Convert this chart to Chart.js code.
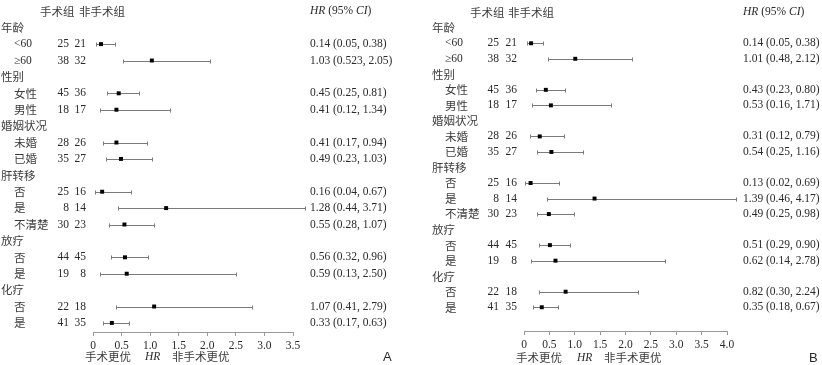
<!DOCTYPE html>
<html lang="zh">
<head>
<meta charset="UTF-8">
<title>森林图</title>
<script src="https://cdn.jsdelivr.net/npm/chart.js"></script>
<style>
  body { margin: 0; background: #fff; }
  .wrap { position: relative; width: 822px; height: 365px; }
  canvas { position: absolute; top: 0; }
  #chartA { left: 0; }
  #chartB { left: 411px; }
</style>
</head>
<body>
<div class="wrap">
  <canvas id="chartA" width="411" height="365"></canvas>
  <canvas id="chartB" width="411" height="365"></canvas>
</div>
<script>
// 行标签（第 0 行为表头）
const rowLabels = ['年龄', '<60', '≥60', '性别', '女性', '男性', '婚姻状况', '未婚', '已婚',
  '肝转移', '否', '是', '不清楚', '放疗', '否', '是', '化疗', '否', '是'];
const isGroup = [1, 0, 0, 1, 0, 0, 1, 0, 0, 1, 0, 0, 0, 1, 0, 0, 1, 0, 0];

// 例数
const surgeryN = [25, 38, 45, 18, 28, 35, 25, 8, 30, 44, 19, 22, 41];
const otherN = [21, 32, 36, 17, 26, 27, 16, 14, 23, 45, 8, 18, 35];

// A 图
const hrA = [0.14, 1.03, 0.45, 0.41, 0.41, 0.49, 0.16, 1.28, 0.55, 0.56, 0.59, 1.07, 0.33];
const loA = [0.05, 0.523, 0.25, 0.12, 0.17, 0.23, 0.04, 0.44, 0.28, 0.32, 0.13, 0.41, 0.17];
const hiA = [0.38, 2.05, 0.81, 1.34, 0.94, 1.03, 0.67, 3.71, 1.07, 0.96, 2.50, 2.79, 0.63];

// B 图
const hrB = [0.14, 1.01, 0.43, 0.53, 0.31, 0.54, 0.13, 1.39, 0.49, 0.51, 0.62, 0.82, 0.35];
const loB = [0.05, 0.48, 0.23, 0.16, 0.12, 0.25, 0.02, 0.46, 0.25, 0.29, 0.14, 0.30, 0.18];
const hiB = [0.38, 2.12, 0.80, 1.71, 0.79, 1.16, 0.69, 4.17, 0.98, 0.90, 2.78, 2.24, 0.67];

const ticksA = [0, 0.5, 1.0, 1.5, 2.0, 2.5, 3.0, 3.5];
const ticksB = [0, 0.5, 1.0, 1.5, 2.0, 2.5, 3.0, 3.5, 4.0];

// 数据行对应的行号（表头占第 0 行）
const dataRows = [];
rowLabels.forEach((s, i) => { if (!isGroup[i]) dataRows.push(i + 1); });

const latin = '11.5px "Liberation Serif", "DejaVu Serif", serif';
const latinIt = 'italic 11.5px "Liberation Serif", "DejaVu Serif", serif';
const cjk = '11.5px "Noto Sans CJK SC", sans-serif';
const textColor = '#2a2a2a';
const cjkColor = '#3c3c3c';

function fmt(v) {
  return Math.abs(v * 100 - Math.round(v * 100)) < 1e-9 ? v.toFixed(2) : v.toFixed(3);
}
function isCjk(s) {
  return /[\u4e00-\u9fff]/.test(s);
}

function forestPlugin(hr, lo, hi, p) {
  return {
    id: 'forest',
    beforeDatasetsDraw(chart) {
      const ctx = chart.ctx, xs = chart.scales.x, ys = chart.scales.y;
      ctx.save();
      ctx.strokeStyle = '#7a7a7a';
      ctx.lineWidth = 1;
      lo.forEach((l, i) => {
        const y = Math.round(ys.getPixelForValue(dataRows[i])) + 0.5;
        const x1 = Math.round(xs.getPixelForValue(l)) + 0.5;
        const x2 = Math.round(xs.getPixelForValue(hi[i])) + 0.5;
        ctx.beginPath();
        ctx.moveTo(x1, y); ctx.lineTo(x2, y);
        ctx.moveTo(x1, y - 2); ctx.lineTo(x1, y + 2);
        ctx.moveTo(x2, y - 2); ctx.lineTo(x2, y + 2);
        ctx.stroke();
      });
      ctx.restore();
    },
    afterDraw(chart) {
      const ctx = chart.ctx, ys = chart.scales.y;
      ctx.save();
      ctx.textBaseline = 'middle';

      // 表头
      const y0 = ys.getPixelForValue(0);
      ctx.font = cjk;
      ctx.fillStyle = cjkColor;
      ctx.textAlign = 'left';
      ctx.fillText('手术组', p.h1, y0);
      ctx.fillText('非手术组', p.h2, y0);
      ctx.fillStyle = textColor;
      let x = p.hrText;
      [['HR', latinIt], [' (95% ', latin], ['CI', latinIt], [')', latin]].forEach(([s, f]) => {
        ctx.font = f;
        ctx.fillText(s, x, y0);
        x += ctx.measureText(s).width;
      });

      // 行标签
      rowLabels.forEach((s, i) => {
        const y = ys.getPixelForValue(i + 1);
        const c = isCjk(s);
        ctx.font = c ? cjk : latin;
        ctx.fillStyle = c ? cjkColor : textColor;
        ctx.textAlign = 'left';
        ctx.fillText(s, isGroup[i] ? p.group : p.item, y);
      });

      // 例数与 HR 文本
      ctx.fillStyle = textColor;
      dataRows.forEach((r, i) => {
        const y = ys.getPixelForValue(r);
        ctx.font = latin;
        ctx.textAlign = 'right';
        ctx.fillText(String(surgeryN[i]), p.n1, y);
        ctx.fillText(String(otherN[i]), p.n2, y);
        ctx.textAlign = 'left';
        ctx.fillText(fmt(hr[i]) + ' (' + fmt(lo[i]) + ', ' + fmt(hi[i]) + ')', p.hrText, y);
      });

      // 底部说明
      ctx.textAlign = 'left';
      ctx.font = cjk;
      ctx.fillStyle = cjkColor;
      ctx.fillText('手术更优', p.neg, p.bottomY);
      ctx.fillText('非手术更优', p.pos, p.bottomY);
      ctx.fillStyle = textColor;
      ctx.font = latinIt;
      ctx.fillText('HR', p.hrLab, p.bottomY);
      ctx.font = '13px "Liberation Sans", Arial, sans-serif';
      ctx.fillText(p.letter, p.letterX, p.bottomY);
      ctx.restore();
    }
  };
}

function makeChart(id, hr, lo, hi, ticks, p) {
  return new Chart(document.getElementById(id), {
    type: 'scatter',
    data: {
      datasets: [{
        data: hr.map((v, i) => ({ x: v, y: dataRows[i] })),
        pointStyle: 'rect',
        pointRadius: 2.8,
        pointBorderWidth: 0,
        backgroundColor: '#000',
        borderColor: '#000',
        clip: false
      }]
    },
    options: {
      responsive: false,
      animation: false,
      events: [],
      layout: { padding: { left: p.left, right: p.right, top: 0, bottom: 0 } },
      plugins: { legend: { display: false }, tooltip: { enabled: false } },
      scales: {
        x: {
          type: 'linear',
          min: ticks[0],
          max: ticks[ticks.length - 1],
          afterBuildTicks: (axis) => { axis.ticks = ticks.map(v => ({ value: v })); },
          afterFit: (axis) => { axis.height = p.axisH; },
          grid: { drawOnChartArea: false, drawTicks: true, tickLength: 4, color: '#999' },
          border: { display: true, color: '#999' },
          ticks: {
            padding: 3,
            color: textColor,
            font: { family: '"Liberation Serif", "DejaVu Serif", serif', size: 11.5 },
            callback: (v) => v === 0 ? '0' : Number(v).toFixed(1)
          }
        },
        y: {
          type: 'linear',
          display: false,
          reverse: true,
          min: p.yMin,
          max: p.yMax
        }
      }
    },
    plugins: [forestPlugin(hr, lo, hi, p)]
  });
}

makeChart('chartA', hrA, loA, hiA, ticksA, {
  left: 93, right: 118, axisH: 33, yMin: -0.446, yMax: 19.554,
  group: 1, item: 14, n1: 69, n2: 86, h1: 40, h2: 79, hrText: 310,
  neg: 85, hrLab: 145, pos: 172, bottomY: 357, letter: 'A', letterX: 383
});

makeChart('chartB', hrB, loB, hiB, ticksB, {
  left: 113, right: 95, axisH: 34, yMin: -0.528, yMax: 20.53,
  group: 21, item: 34, n1: 88, n2: 106, h1: 59, h2: 97, hrText: 332,
  neg: 105, hrLab: 166, pos: 193, bottomY: 358, letter: 'B', letterX: 398
});
</script>
</body>
</html>
